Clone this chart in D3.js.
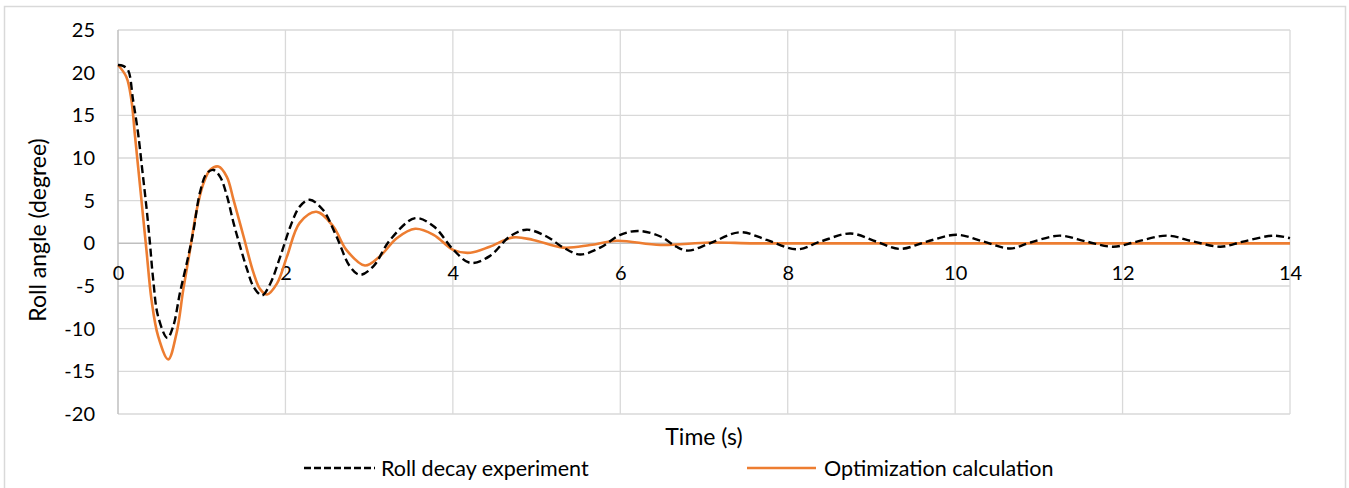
<!DOCTYPE html>
<html>
<head>
<meta charset="utf-8">
<script src="https://cdn.jsdelivr.net/npm/d3@7"></script>
<style>
  body { margin: 0; background: #fff; }
  text { font-family: Lato, "Open Sans", sans-serif; fill: #000; }
</style>
</head>
<body>
<div id="chart"></div>
<script>
// experiment (dashed)
var expTime = [0, 0.06, 0.12, 0.18, 0.24, 0.29, 0.34, 0.38, 0.42, 0.48, 0.59, 0.66, 0.74, 0.84, 0.90, 0.98,
  1.06, 1.14, 1.22, 1.30, 1.38, 1.46, 1.54, 1.62, 1.72, 1.82, 1.94, 2.06, 2.17, 2.29, 2.45, 2.61, 2.77,
  2.89, 3.05, 3.25, 3.55, 3.77, 4.01, 4.21, 4.44, 4.68, 4.88, 5.12, 5.32, 5.52, 5.76, 6.0, 6.22, 6.48,
  6.67, 6.81, 7.07, 7.43, 7.75, 8.11, 8.39, 8.75, 9.06, 9.34, 9.66, 10.02, 10.34, 10.66, 10.9, 11.25,
  11.57, 11.89, 12.17, 12.53, 12.85, 13.17, 13.44, 13.8, 14.0];
var expRoll = [20.9, 20.8, 20.3, 16.8, 12.9, 8.6, 4.2, 0.2, -4.2, -8.6, -11.1, -9.7, -5.8, -1.5, 1.4, 6.0,
  8.2, 8.6, 7.8, 5.6, 2.4, -0.4, -3.0, -5.1, -6.1, -4.7, -1.5, 2.0, 4.3, 5.1, 3.9, 0.8, -2.7,
  -3.7, -2.7, 0.4, 2.95, 2.0, -0.8, -2.3, -1.5, 0.8, 1.6, 0.8, -0.5, -1.3, -0.5, 1.0, 1.45, 0.8,
  -0.4, -0.85, 0, 1.3, 0.4, -0.7, 0.2, 1.15, 0.2, -0.65, 0.2, 1.0, 0.2, -0.6, 0.1, 0.9,
  0.2, -0.4, 0.2, 0.9, 0.2, -0.4, 0.2, 0.9, 0.6];

// optimization (orange)
var optTime = [0, 0.10, 0.16, 0.20, 0.24, 0.30, 0.34, 0.40, 0.48, 0.60, 0.70, 0.78, 0.86, 0.94, 1.02, 1.10,
  1.20, 1.30, 1.38, 1.50, 1.62, 1.70, 1.78, 1.90, 2.02, 2.17, 2.37, 2.57, 2.73, 2.95, 3.13, 3.33, 3.55,
  3.77, 4.01, 4.21, 4.44, 4.72, 4.96, 5.32, 5.64, 5.96, 6.48, 7.07, 7.6, 8.5, 14.0];
var optRoll = [20.9, 19.5, 16.8, 12.9, 9.0, 3.1, -0.8, -6.6, -10.9, -13.6, -10.5, -5.4, -0.8, 3.9, 7.0, 8.6,
  9.0, 7.8, 5.1, 0.8, -3.5, -5.4, -6.0, -4.7, -1.5, 2.4, 3.7, 2.0, -0.8, -2.6, -1.5, 0.6, 1.7,
  1.0, -0.8, -1.1, -0.4, 0.7, 0.4, -0.5, -0.2, 0.3, -0.2, 0.1, 0, 0, 0];

var xTicks = [0, 2, 4, 6, 8, 10, 12, 14];
var yTicks = [-20, -15, -10, -5, 0, 5, 10, 15, 20, 25];

var seriesNames = ["Roll decay experiment", "Optimization calculation"];

var W = 1349, H = 488;
var margin = {top: 30, right: 59, bottom: 74, left: 118},
    width = W - margin.left - margin.right,
    height = H - margin.top - margin.bottom;

var x = d3.scaleLinear().domain([0, 14]).range([0, width]);
var y = d3.scaleLinear().domain([-20, 25]).range([height, 0]);

var root = d3.select("#chart").append("svg")
    .attr("width", W)
    .attr("height", H);

root.append("rect").attr("width", W).attr("height", H).attr("fill", "#fff");

// outer chart frame
root.append("rect")
    .attr("x", 4.5).attr("y", 6.5)
    .attr("width", 1341).attr("height", 500)
    .attr("fill", "none")
    .attr("stroke", "#d9d9d9")
    .attr("stroke-width", 1.5);

var svg = root.append("g")
    .attr("transform", "translate(" + margin.left + "," + margin.top + ")");

// gridlines
svg.selectAll(".hgrid")
    .data(yTicks.filter(function(d) { return d !== 0; }))
    .enter().append("line")
    .attr("x1", 0).attr("x2", width)
    .attr("y1", function(d) { return y(d); })
    .attr("y2", function(d) { return y(d); })
    .attr("stroke", "#d9d9d9").attr("stroke-width", 1.3);

svg.selectAll(".vgrid")
    .data(xTicks.filter(function(d) { return d !== 0; }))
    .enter().append("line")
    .attr("y1", 0).attr("y2", height)
    .attr("x1", function(d) { return x(d); })
    .attr("x2", function(d) { return x(d); })
    .attr("stroke", "#d9d9d9").attr("stroke-width", 1.3);

// axes lines (zero line + left)
svg.append("line")
    .attr("x1", 0).attr("x2", width)
    .attr("y1", y(0)).attr("y2", y(0))
    .attr("stroke", "#bfbfbf").attr("stroke-width", 1.5);
svg.append("line")
    .attr("x1", 0).attr("x2", 0)
    .attr("y1", 0).attr("y2", height)
    .attr("stroke", "#bfbfbf").attr("stroke-width", 1.5);

var plain = function(d) { return String(d); };

// Y tick labels
var yAxis = svg.append("g")
    .call(d3.axisLeft(y).tickValues(yTicks).tickFormat(plain).tickSize(0).tickPadding(23));
yAxis.select(".domain").remove();
yAxis.selectAll("text").style("font-size", "20px").attr("fill", "#000");

// X tick labels, sitting under the zero line
var xAxis = svg.append("g")
    .attr("transform", "translate(0," + y(0) + ")")
    .call(d3.axisBottom(x).tickValues(xTicks).tickFormat(plain).tickSize(0).tickPadding(22));
xAxis.select(".domain").remove();
xAxis.selectAll("text").style("font-size", "20px").attr("fill", "#000");

// series
var line = d3.line()
    .x(function(d) { return x(d[0]); })
    .y(function(d) { return y(d[1]); })
    .curve(d3.curveCatmullRom.alpha(0.5));

svg.append("path")
    .datum(d3.zip(optTime, optRoll))
    .attr("fill", "none")
    .attr("stroke", "#ed7d31")
    .attr("stroke-width", 2.6)
    .attr("d", line);

svg.append("path")
    .datum(d3.zip(expTime, expRoll))
    .attr("fill", "none")
    .attr("stroke", "#000")
    .attr("stroke-width", 2.4)
    .attr("stroke-dasharray", "8,4")
    .attr("d", line);

// axis titles
root.append("text")
    .attr("x", margin.left + width / 2)
    .attr("y", 445)
    .attr("text-anchor", "middle")
    .style("font-size", "23px")
    .text("Time (s)");

root.append("text")
    .attr("transform", "rotate(-90)")
    .attr("x", -230)
    .attr("y", 38)
    .attr("dy", "0.35em")
    .attr("text-anchor", "middle")
    .style("font-size", "23px")
    .text("Roll angle (degree)");

// legend
var leg = root.append("g");
leg.append("line")
    .attr("x1", 304).attr("x2", 375).attr("y1", 468).attr("y2", 468)
    .attr("stroke", "#000").attr("stroke-width", 2.4).attr("stroke-dasharray", "7,3");
leg.append("text")
    .attr("x", 381).attr("y", 468).attr("dy", "0.35em")
    .style("font-size", "21.5px")
    .text(seriesNames[0]);
leg.append("line")
    .attr("x1", 747).attr("x2", 816).attr("y1", 468).attr("y2", 468)
    .attr("stroke", "#ed7d31").attr("stroke-width", 2.6);
leg.append("text")
    .attr("x", 824).attr("y", 468).attr("dy", "0.35em")
    .style("font-size", "21.5px")
    .text(seriesNames[1]);
</script>
</body>
</html>
